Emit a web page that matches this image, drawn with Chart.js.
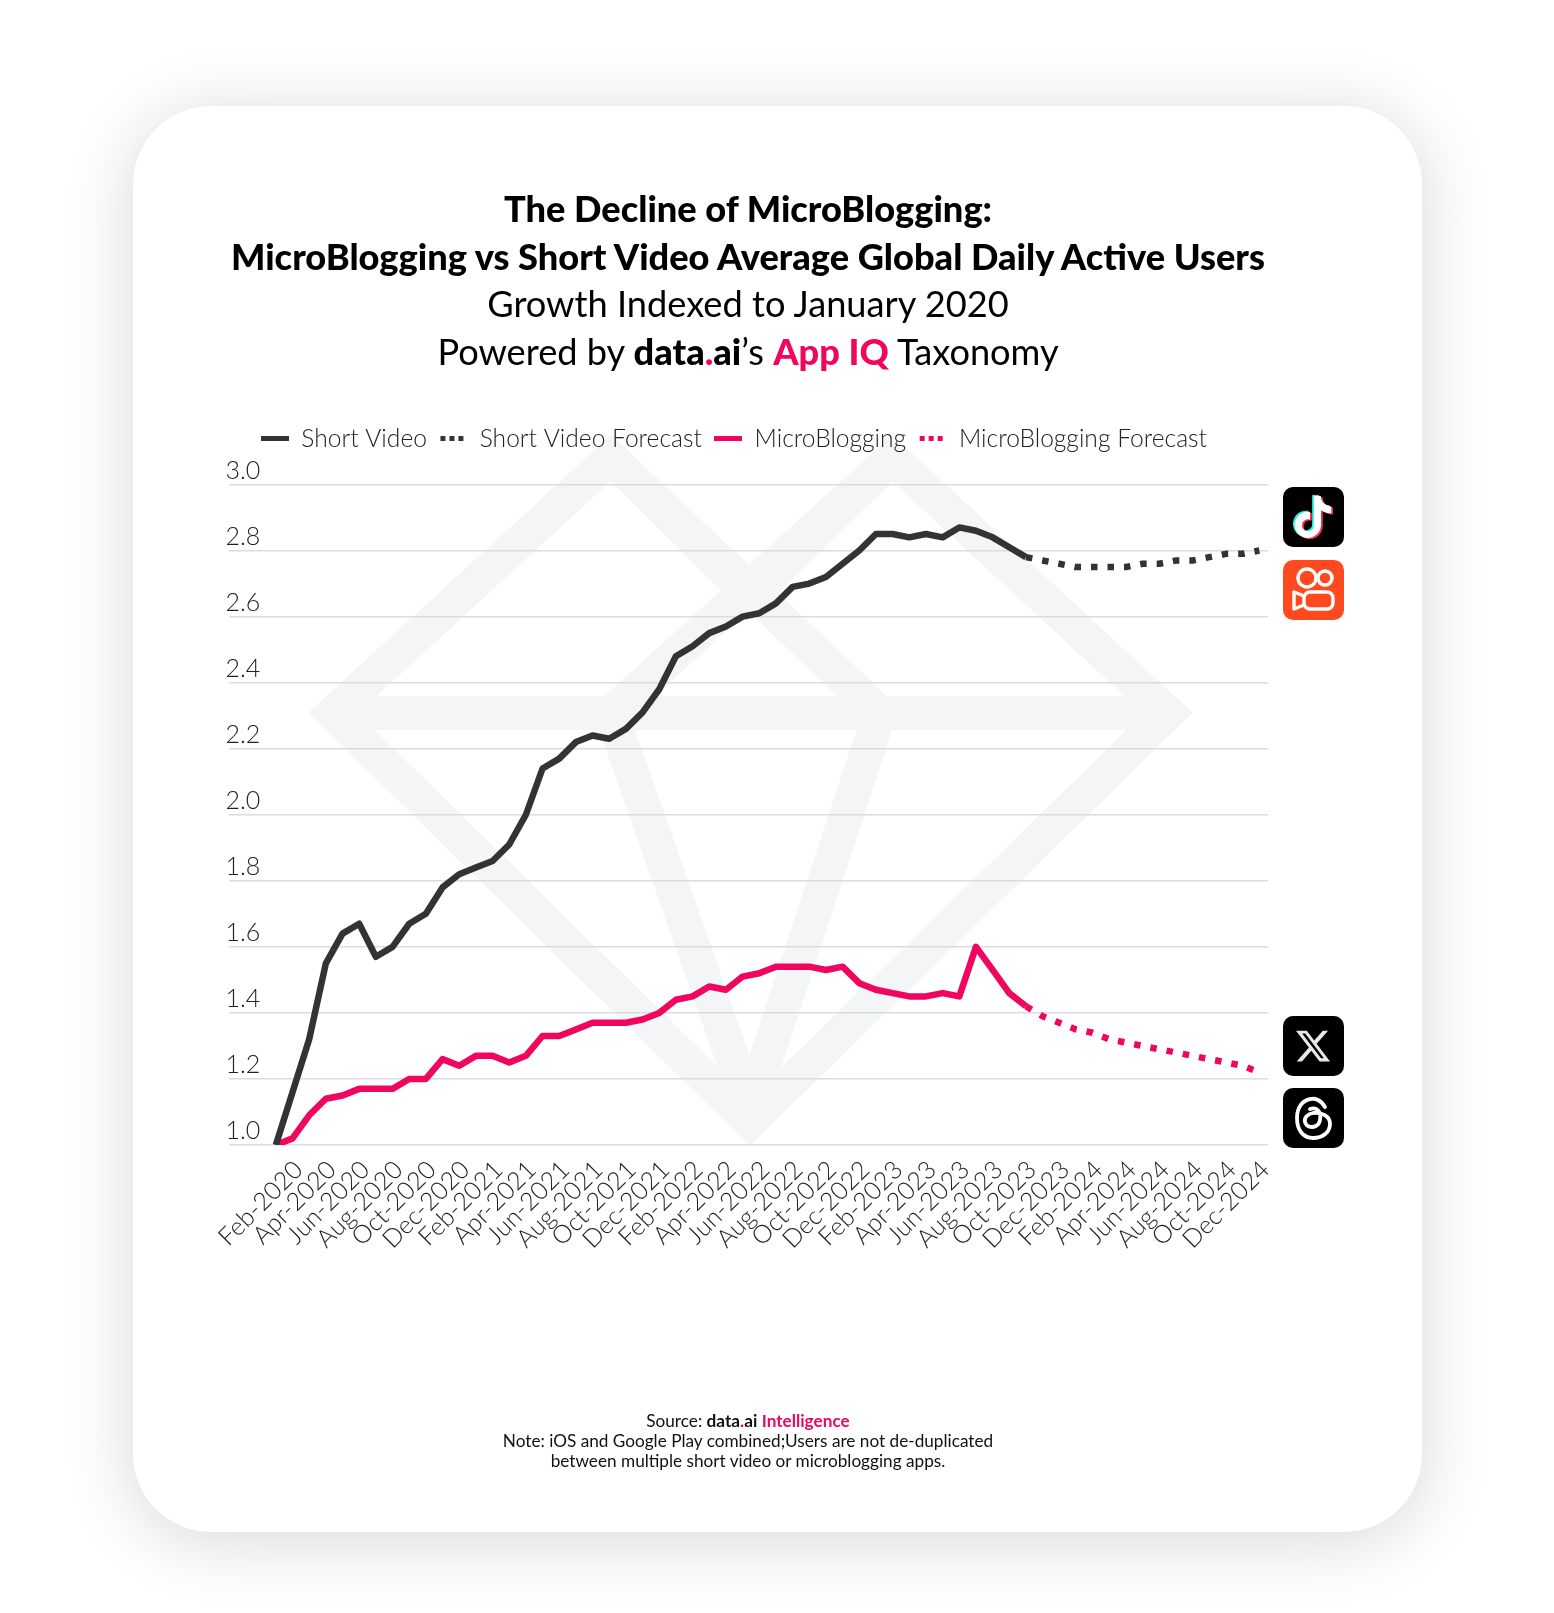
<!DOCTYPE html>
<html>
<head>
<meta charset="utf-8">
<script src="https://cdn.jsdelivr.net/npm/chart.js@4"></script>
<style>
html, body { margin: 0; background: #fff; }
body { position: relative; width: 1554px; height: 1613px; overflow: hidden; font-family: Lato, sans-serif; }
#card { position: absolute; left: 133px; top: 106px; width: 1289px; height: 1426px; background: #fff; border-radius: 78px; box-shadow: 0 8px 70px rgba(0,0,0,.16); }
#mark, #mycanvas, #icons { position: absolute; left: 0; top: 0; }
#head { position: absolute; left: 0; width: 1496px; top: 185px; text-align: center; font-size: 36.2px; line-height: 47.5px; color: #000; }
#head b { font-weight: 900; }
#foot { position: absolute; left: 0; width: 1496px; top: 1411px; text-align: center; font-size: 17.2px; line-height: 20px; color: #111; }
.pink { color: #f0065f; }
</style>
</head>
<body>
<div id="card"></div>
<svg id="mark" width="1554" height="1613" fill="none" stroke="#f4f5f6" stroke-width="34" stroke-linejoin="miter">
	<path d="M333 713 L611 458 L751 596 L892 458 L1168 713 L750 1122 Z"/>
	<path d="M333 713 H1168"/>
	<path stroke-linejoin="bevel" d="M611 458 L880 713 L750 1108 L611 713 L892 458"/>
</svg>
<canvas id="mycanvas" width="1554" height="1613"></canvas>
<svg id="icons" width="1554" height="1613">
	<rect x="1283" y="487" width="61" height="60" rx="10" fill="#000"/>
	<g transform="translate(1292 496) scale(1.75)">
		<path fill="#25f4ee" transform="translate(-1 -.6)" d="M12.525.02c1.31-.02 2.61-.01 3.91-.02.08 1.53.63 3.09 1.75 4.17 1.12 1.11 2.7 1.62 4.24 1.79v4.03c-1.44-.05-2.89-.35-4.2-.97-.57-.26-1.1-.59-1.62-.93-.01 2.92.01 5.84-.02 8.75-.08 1.4-.54 2.79-1.35 3.94-1.31 1.92-3.58 3.17-5.91 3.21-1.43.08-2.86-.31-4.08-1.03-2.02-1.19-3.44-3.37-3.65-5.71-.02-.5-.03-1-.01-1.49.18-1.9 1.12-3.72 2.58-4.96 1.66-1.44 3.98-2.13 6.15-1.72.02 1.48-.04 2.96-.04 4.44-.99-.32-2.15-.23-3.02.37-.63.41-1.11 1.04-1.36 1.75-.21.51-.15 1.07-.14 1.61.24 1.64 1.82 3.02 3.5 2.87 1.12-.01 2.19-.66 2.77-1.61.19-.33.4-.67.41-1.06.1-1.79.06-3.57.07-5.36.01-4.03-.01-8.05.02-12.07z"/>
		<path fill="#fe2c55" transform="translate(1 .6)" d="M12.525.02c1.31-.02 2.61-.01 3.91-.02.08 1.53.63 3.09 1.75 4.17 1.12 1.11 2.7 1.62 4.24 1.79v4.03c-1.44-.05-2.89-.35-4.2-.97-.57-.26-1.1-.59-1.62-.93-.01 2.92.01 5.84-.02 8.75-.08 1.4-.54 2.79-1.35 3.94-1.31 1.92-3.58 3.17-5.91 3.21-1.43.08-2.86-.31-4.08-1.03-2.02-1.19-3.44-3.37-3.65-5.71-.02-.5-.03-1-.01-1.49.18-1.9 1.12-3.72 2.58-4.96 1.66-1.44 3.98-2.13 6.15-1.72.02 1.48-.04 2.96-.04 4.44-.99-.32-2.15-.23-3.02.37-.63.41-1.11 1.04-1.36 1.75-.21.51-.15 1.07-.14 1.61.24 1.64 1.82 3.02 3.5 2.87 1.12-.01 2.19-.66 2.77-1.61.19-.33.4-.67.41-1.06.1-1.79.06-3.57.07-5.36.01-4.03-.01-8.05.02-12.07z"/>
		<path fill="#fff" d="M12.525.02c1.31-.02 2.61-.01 3.91-.02.08 1.53.63 3.09 1.75 4.17 1.12 1.11 2.7 1.62 4.24 1.79v4.03c-1.44-.05-2.89-.35-4.2-.97-.57-.26-1.1-.59-1.62-.93-.01 2.92.01 5.84-.02 8.75-.08 1.4-.54 2.79-1.35 3.94-1.31 1.92-3.58 3.17-5.91 3.21-1.43.08-2.86-.31-4.08-1.03-2.02-1.19-3.44-3.37-3.65-5.71-.02-.5-.03-1-.01-1.49.18-1.9 1.12-3.72 2.58-4.96 1.66-1.44 3.98-2.13 6.15-1.72.02 1.48-.04 2.96-.04 4.44-.99-.32-2.15-.23-3.02.37-.63.41-1.11 1.04-1.36 1.75-.21.51-.15 1.07-.14 1.61.24 1.64 1.82 3.02 3.5 2.87 1.12-.01 2.19-.66 2.77-1.61.19-.33.4-.67.41-1.06.1-1.79.06-3.57.07-5.36.01-4.03-.01-8.05.02-12.07z"/>
	</g>
	<rect x="1283" y="560" width="61" height="60" rx="10" fill="#ff4a1f"/>
	<g fill="none" stroke="#fff" stroke-width="3.4" stroke-linejoin="round">
		<circle cx="1307" cy="578" r="9"/>
		<circle cx="1325" cy="578" r="7"/>
		<rect x="1304" y="592" width="29" height="17" rx="6"/>
		<path d="M1304 596 L1294 592 V609 L1304 605"/>
	</g>
	<rect x="1283" y="1016" width="61" height="60" rx="10" fill="#000"/>
	<path transform="translate(1296 1029) scale(1.42)" fill="#e8e8e8" d="M18.901 1.153h3.68l-8.04 9.19L24 22.846h-7.406l-5.8-7.584-6.638 7.584H.474l8.6-9.83L0 1.154h7.594l5.243 6.932ZM17.61 20.644h2.039L6.486 3.24H4.298Z"/>
	<rect x="1283" y="1088" width="61" height="60" rx="10" fill="#000"/>
	<path fill="none" stroke="#fff" stroke-width="3.8" stroke-linecap="round" d="M1325 1107 C1321 1100 1315 1098 1311 1099 C1302 1100 1297 1108 1297 1118 C1297 1130 1303 1138 1313 1138 C1323 1138 1330 1132 1330 1124 C1330 1116 1322 1112 1313 1113 C1307 1114 1304 1118 1305 1122 C1306 1127 1312 1128 1316 1126 C1320 1124 1321 1118 1320 1114 C1319 1110 1315 1107 1310 1109"/>
</svg>
<div id="head">
	<div><b>The Decline of MicroBlogging:</b></div>
	<div><b>MicroBlogging vs Short Video Average Global Daily Active Users</b></div>
	<div>Growth Indexed to January 2020</div>
	<div>Powered by <b>data<span class="pink">.</span>ai</b>’s <b class="pink">App IQ</b> Taxonomy</div>
</div>
<div id="foot">
	<div>Source: <b>data<span class="pink">.</span>ai</b> <b class="pink">Intelligence</b></div>
	<div>Note: iOS and Google Play combined;Users are not de-duplicated</div>
	<div>between multiple short video or microblogging apps.</div>
</div>
<script>
var monthLabels = [
	"Feb-2020", "Apr-2020", "Jun-2020", "Aug-2020", "Oct-2020", "Dec-2020",
	"Feb-2021", "Apr-2021", "Jun-2021", "Aug-2021", "Oct-2021", "Dec-2021",
	"Feb-2022", "Apr-2022", "Jun-2022", "Aug-2022", "Oct-2022", "Dec-2022",
	"Feb-2023", "Apr-2023", "Jun-2023", "Aug-2023", "Oct-2023", "Dec-2023",
	"Feb-2024", "Apr-2024", "Jun-2024", "Aug-2024", "Oct-2024", "Dec-2024"
];

// monthly values starting Jan-2020, actuals run to index 45, forecast from there
var shortVideo = [1.00, 1.16, 1.32, 1.55, 1.64, 1.67, 1.57, 1.60, 1.67, 1.70, 1.78, 1.82, 1.84, 1.86, 1.91, 2.00,
	2.14, 2.17, 2.22, 2.24, 2.23, 2.26, 2.31, 2.38, 2.48, 2.51, 2.55, 2.57, 2.60, 2.61, 2.64, 2.69,
	2.70, 2.72, 2.76, 2.80, 2.85, 2.85, 2.84, 2.85, 2.84, 2.87, 2.86, 2.84, 2.81, 2.78];
var shortVideoForecast = [2.78, 2.77, 2.76, 2.75, 2.75, 2.75, 2.75, 2.76, 2.76, 2.77, 2.77, 2.78, 2.79, 2.79, 2.80];
var microBlogging = [1.00, 1.02, 1.09, 1.14, 1.15, 1.17, 1.17, 1.17, 1.20, 1.20, 1.26, 1.24, 1.27, 1.27, 1.25, 1.27,
	1.33, 1.33, 1.35, 1.37, 1.37, 1.37, 1.38, 1.40, 1.44, 1.45, 1.48, 1.47, 1.51, 1.52, 1.54, 1.54,
	1.54, 1.53, 1.54, 1.49, 1.47, 1.46, 1.45, 1.45, 1.46, 1.45, 1.60, 1.53, 1.46, 1.42];
var microBloggingForecast = [1.42, 1.39, 1.37, 1.35, 1.34, 1.32, 1.31, 1.30, 1.29, 1.28, 1.27, 1.26, 1.25, 1.24, 1.22];
var forecastStart = 45;

var black = "#333333";
var pink = "#f0065f";
var tickFont = "Lato";

function points(values, start) {
	return values.map(function(v, i) { return {x: start + i, y: v}; });
}

// little legend samples, a solid bar or three square dots
function sample(color, dotted) {
	var c = document.createElement("canvas");
	c.width = 28;
	c.height = 5;
	var g = c.getContext("2d");
	g.fillStyle = color;
	if (dotted) {
		g.fillRect(1, 0, 5, 5);
		g.fillRect(10, 0, 5, 5);
		g.fillRect(19, 0, 5, 5);
	} else {
		g.fillRect(0, 0, 28, 5);
	}
	return c;
}

function series(label, values, start, color, dotted) {
	return {
		label: label,
		data: points(values, start),
		borderColor: color,
		backgroundColor: color,
		borderWidth: 6.5,
		borderDash: dotted ? [6.5, 10] : [],
		borderJoinStyle: "round",
		fill: false,
		tension: 0,
		pointRadius: 0,
		pointStyle: sample(color, dotted)
	};
}

// the legend sits a bit left of the plot centre and close to the top gridline in the original
var legendShift = {
	id: "legendShift",
	afterLayout: function(chart) {
		chart.legend.left += 20;
		chart.legend.right += 20;
		chart.legend.top -= 23.5;
		chart.legend.bottom -= 23.5;
	}
};

new Chart(document.getElementById("mycanvas"), {
	type: "line",
	data: {
		datasets: [
			series("Short Video", shortVideo, 0, black, false),
			series("Short Video Forecast", shortVideoForecast, forecastStart, black, true),
			series("MicroBlogging", microBlogging, 0, pink, false),
			series("MicroBlogging Forecast", microBloggingForecast, forecastStart, pink, true)
		]
	},
	plugins: [legendShift],
	options: {
		responsive: false,
		animation: false,
		devicePixelRatio: 1,
		layout: {padding: {top: 437.4, left: 228.5, right: 286, bottom: 0}},
		plugins: {
			tooltip: {enabled: false},
			legend: {
				align: "start",
				labels: {
					usePointStyle: true,
					pointStyleWidth: 28,
					padding: 12.5,
					color: "#222",
					font: {family: tickFont, size: 24.6, weight: "300"}
				}
			}
		},
		scales: {
			x: {
				type: "linear",
				min: -2.84,
				max: 59.52,
				grid: {display: false},
				border: {display: false},
				afterBuildTicks: function(axis) {
					axis.ticks = monthLabels.map(function(m, i) { return {value: 2 * i + 1}; });
				},
				afterFit: function(axis) { axis.height = 468; },
				ticks: {
					autoSkip: false,
					minRotation: 45,
					maxRotation: 45,
					padding: 2,
					labelOffset: 6,
					color: "#222",
					font: {family: tickFont, size: 25, weight: "300"},
					callback: function(v) { return monthLabels[(v - 1) / 2]; }
				}
			},
			y: {
				min: 1,
				max: 3,
				grid: {color: "#dcdcdc", lineWidth: 1.5, drawTicks: false},
				border: {display: false},
				afterFit: function(axis) { axis.width = 0; },
				ticks: {
					stepSize: 0.2,
					mirror: true,
					padding: -3,
					labelOffset: -14,
					color: "#222",
					font: {family: tickFont, size: 25, weight: "300"},
					callback: function(v) { return v.toFixed(1); }
				}
			}
		}
	}
});
</script>
</body>
</html>
